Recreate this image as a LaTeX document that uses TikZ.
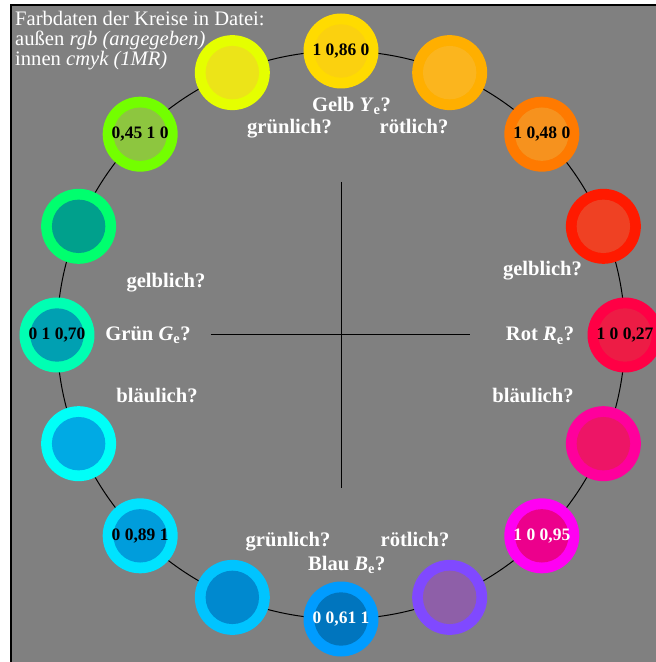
\documentclass[tikz,border=0pt]{standalone}
\usepackage{fontspec}
\setmainfont{Liberation Serif}
\usepackage{tikz}
\definecolor{bg}{HTML}{808080}
\definecolor{o0}{HTML}{FFDB00}\definecolor{i0}{HTML}{FBD10F}
\definecolor{o1}{HTML}{FFAF00}\definecolor{i1}{HTML}{FBB51E}
\definecolor{o2}{HTML}{FF7A00}\definecolor{i2}{HTML}{F6921E}
\definecolor{o3}{HTML}{FF1A00}\definecolor{i3}{HTML}{EF4123}
\definecolor{o4}{HTML}{FF0045}\definecolor{i4}{HTML}{ED1C45}
\definecolor{o5}{HTML}{FF009C}\definecolor{i5}{HTML}{ED1566}
\definecolor{o6}{HTML}{FF00F2}\definecolor{i6}{HTML}{EC008C}
\definecolor{o7}{HTML}{8049FF}\definecolor{i7}{HTML}{8E5FA8}
\definecolor{o8}{HTML}{009CFF}\definecolor{i8}{HTML}{0075BE}
\definecolor{o9}{HTML}{00C4FF}\definecolor{i9}{HTML}{0089CF}
\definecolor{o10}{HTML}{00E3FF}\definecolor{i10}{HTML}{009DDC}
\definecolor{o11}{HTML}{00FFF8}\definecolor{i11}{HTML}{00AAE4}
\definecolor{o12}{HTML}{00FFB3}\definecolor{i12}{HTML}{00A0B2}
\definecolor{o13}{HTML}{00FF6E}\definecolor{i13}{HTML}{00A08C}
\definecolor{o14}{HTML}{73FF00}\definecolor{i14}{HTML}{8DC63F}
\definecolor{o15}{HTML}{E5FF00}\definecolor{i15}{HTML}{ECE418}

\begin{document}
\begin{tikzpicture}[x=1bp,y=1bp,
  ringdot/.style={circle,inner sep=0pt,minimum size=75bp},
  coredot/.style={circle,inner sep=0pt,minimum size=53.4bp},
  num/.style={inner sep=0pt,font=\bfseries\fontsize{17.5bp}{18bp}\selectfont},
  lab/.style={anchor=base,inner sep=0pt,text=white,font=\bfseries\fontsize{20.6bp}{22bp}\selectfont}]
\useasboundingbox (-341,-327) rectangle (315,335);
\clip (-341,-327) rectangle (315,335);
\filldraw[fill=bg,line width=1.5bp] (-330,330) rectangle (330,-340);
\draw[line width=1bp] (0,0) circle (284);
\draw[line width=1bp] (-130,0) -- (129,0);
\draw[line width=1bp] (0,153) -- (0,-153);
\foreach \i/\t/\c in {0/{1 0,86 0}/black,1/{}/black,2/{1 0,48 0}/black,3/{}/black,
  4/{1 0 0,27}/black,5/{}/black,6/{1 0 0,95}/white,7/{}/black,
  8/{0 0,61 1}/white,9/{}/black,10/{0 0,89 1}/black,11/{}/black,
  12/{0 1 0,70}/black,13/{}/black,14/{0,45 1 0}/black,15/{}/black}{
  \node[ringdot,fill=o\i] (r\i) at ({90-22.5*\i}:284) {};
  \node[coredot,fill=i\i] (k\i) at (r\i) {};
  \node[num,text=\c] (t\i) at (k\i) {\t};
}
\node[anchor=north west,align=left,inner sep=0pt,text=white,
  font=\fontsize{20.6bp}{20bp}\selectfont] (info) at (-326,324.3)
  {Farbdaten der Kreise in Datei:\\ außen \textit{rgb (angegeben)}\\ innen \textit{cmyk (1MR)}};
\node[lab] (gelb) at (10.5,223.3) {Gelb \textit{Y}\textsubscript{e}?};
\node[lab] (ygruen) at (-51.5,201) {grünlich?};
\node[lab] (yrot) at (73,201) {rötlich?};
\node[lab] (rgelb) at (201.5,59) {gelblich?};
\node[lab] (rot) at (199,-6) {Rot \textit{R}\textsubscript{e}?};
\node[lab] (rblau) at (192,-67.7) {bläulich?};
\node[lab] (ggelb) at (-175,47) {gelblich?};
\node[lab] (gruen) at (-193,-5.7) {Grün \textit{G}\textsubscript{e}?};
\node[lab] (gblau) at (-184,-67.7) {bläulich?};
\node[lab] (bgruen) at (-53,-211.7) {grünlich?};
\node[lab] (brot) at (74,-211.7) {rötlich?};
\node[lab] (blau) at (5.7,-235.7) {Blau \textit{B}\textsubscript{e}?};
\end{tikzpicture}
\end{document}
